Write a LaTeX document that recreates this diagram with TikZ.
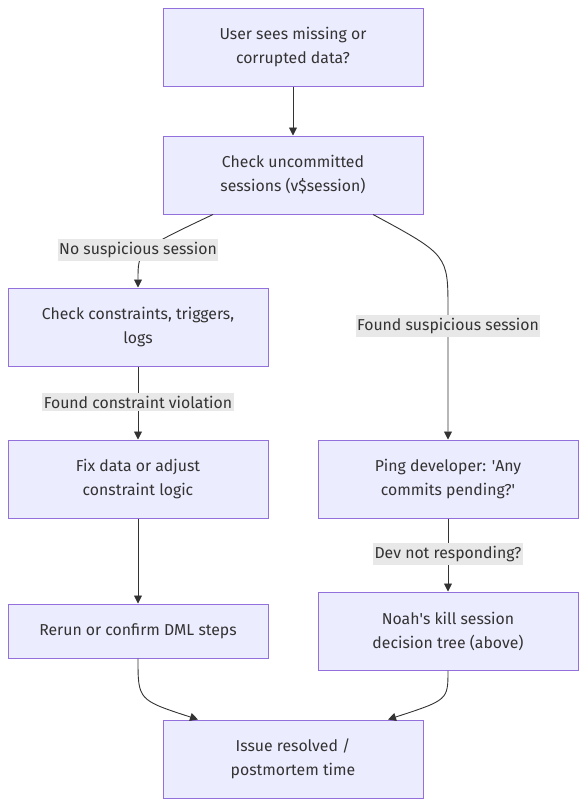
\documentclass[tikz,border=0pt]{standalone}
\usepackage{fontspec}
\setmainfont{Fira Sans}
\usetikzlibrary{arrows.meta}
\definecolor{boxfill}{HTML}{ECECFF}
\definecolor{boxline}{HTML}{9370DB}
\definecolor{edgeline}{HTML}{333333}
\definecolor{labelbg}{HTML}{E8E8E8}
\tikzset{
  box/.style={draw=boxline, fill=boxfill, line width=1pt, minimum width=260pt, minimum height=78pt, align=center, text=edgeline, font=\fontsize{15.8}{24}\selectfont},
  arr/.style={draw=edgeline, line width=0.9pt, -{Triangle[length=8pt,width=8pt]}},
  lbl/.style={fill=labelbg, text=edgeline, inner xsep=1.5pt, inner ysep=3pt, font=\fontsize{15.8}{18}\selectfont}
}
\begin{document}
\begin{tikzpicture}[x=1pt,y=-1pt]
            \useasboundingbox (0,0) rectangle (586,806);
            \node[box] (A) at (293,47) {User sees missing or\\corrupted data?};
            \node[box] (B) at (293,175) {Check uncommitted\\sessions (v\$session)};
            \node[box] (C) at (138,327) {Check constraints, triggers,\\logs};
            \node[box] (D) at (138,479) {Fix data or adjust\\constraint logic};
            \node[box, minimum height=54pt] (E) at (138,631) {Rerun or confirm DML steps};
            \node[box] (F) at (448,479) {Ping developer: \textquotesingle Any\\commits pending?\textquotesingle};
            \node[box] (G) at (448,631) {Noah\textquotesingle s kill session\\decision tree (above)};
            \node[box] (H) at (293,759) {Issue resolved /\\postmortem time};

            \draw[arr] (A) -- (B);
            \draw[arr] ([xshift=-80pt]B.south) .. controls (138,250) .. (C.north);
            \draw[arr] ([xshift=80pt]B.south) .. controls (448,255) .. (448,310) -- (F.north);
            \draw[arr] (C) -- (D);
            \draw[arr] (D) -- (E);
            \draw[arr] (F) -- (G);
            \draw[arr] (E.south) .. controls (138,700) .. ([xshift=-95pt]H.north);
            \draw[arr] (G.south) .. controls (448,700) .. ([xshift=95pt]H.north);

            \node[lbl] (l1) at (138,250) {No suspicious session};
            \node[lbl] (l2) at (448,326) {Found suspicious session};
            \node[lbl] (l3) at (138,402) {Found constraint violation};
            \node[lbl] (l4) at (448,554) {Dev not responding?};
        \end{tikzpicture}
\end{document}
